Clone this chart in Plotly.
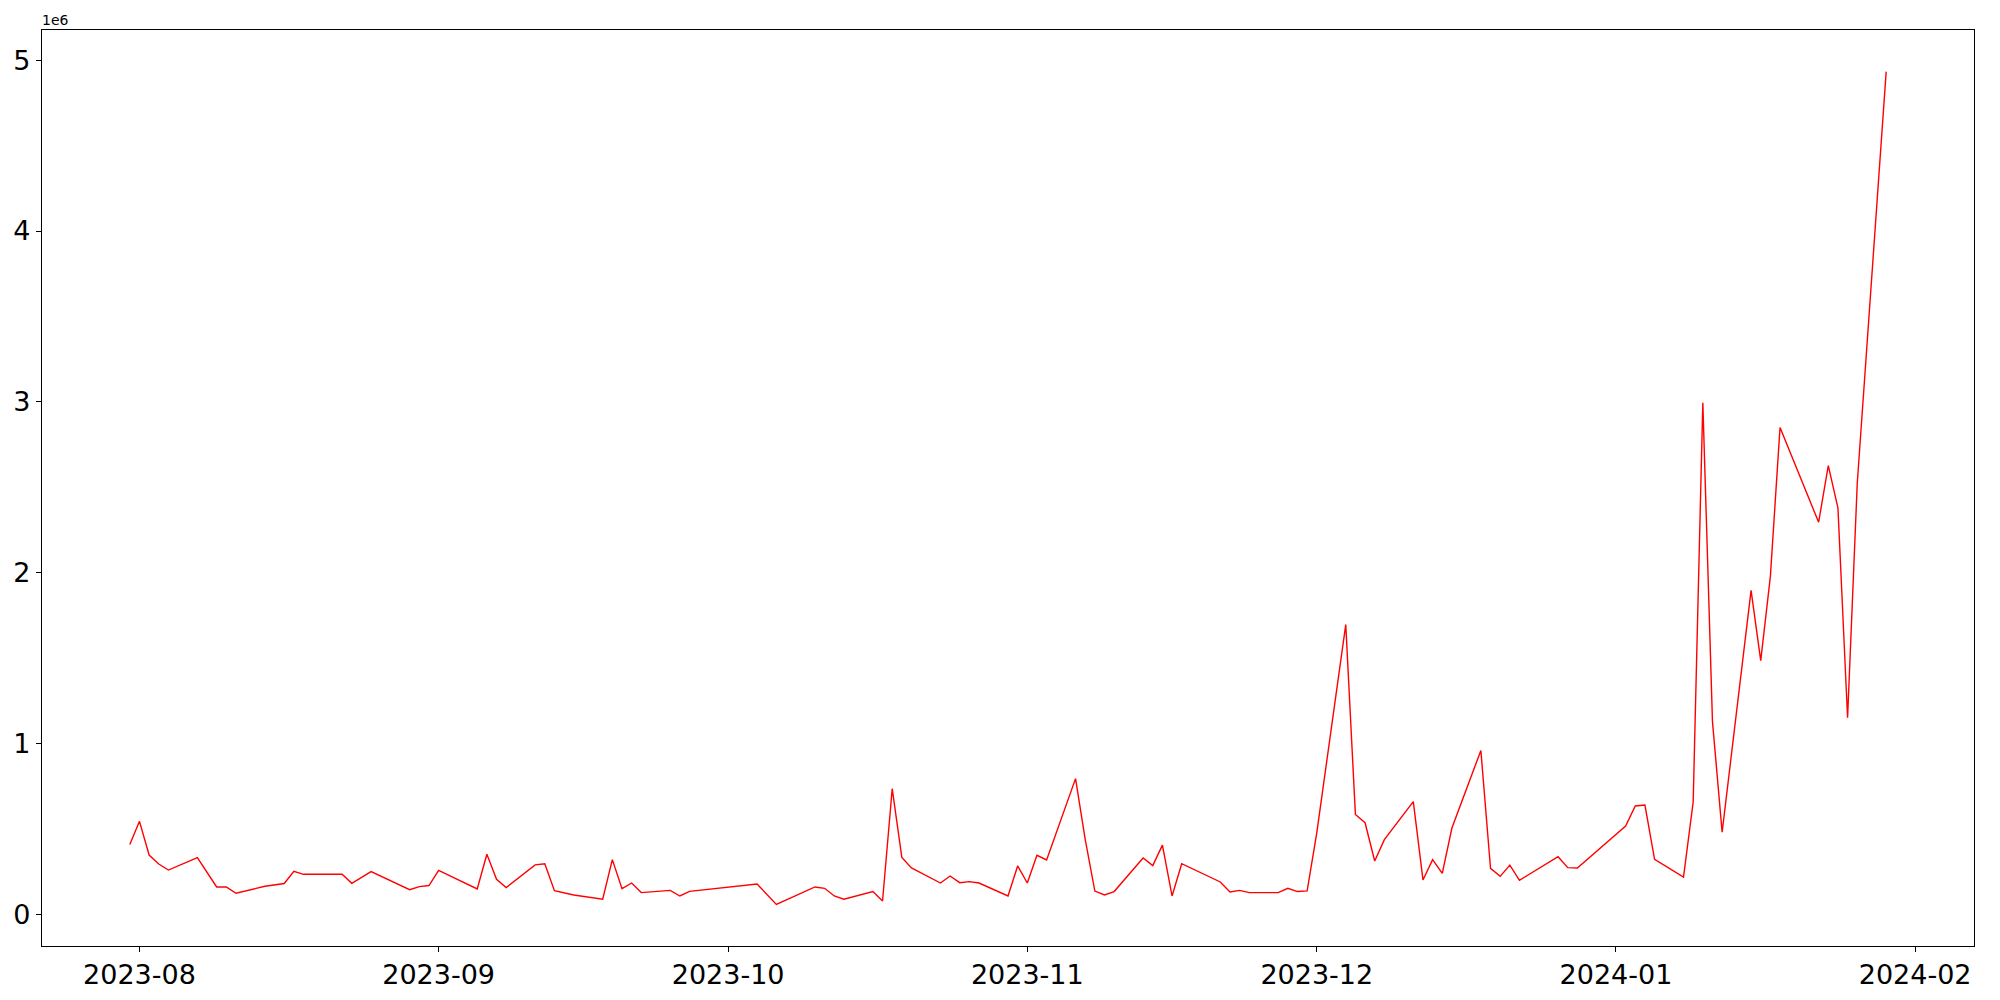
import plotly.graph_objects as go
import pandas as pd

# values (business days, units of 1)
dates = [
    '2023-07-31', '2023-08-01', '2023-08-02', '2023-08-03', '2023-08-04', '2023-08-07',
    '2023-08-09', '2023-08-10', '2023-08-11', '2023-08-14', '2023-08-16', '2023-08-17',
    '2023-08-18', '2023-08-22', '2023-08-23', '2023-08-25', '2023-08-29', '2023-08-30',
    '2023-08-31', '2023-09-01', '2023-09-05', '2023-09-06', '2023-09-07', '2023-09-08',
    '2023-09-11', '2023-09-12', '2023-09-13', '2023-09-15', '2023-09-18', '2023-09-19',
    '2023-09-20', '2023-09-21', '2023-09-22', '2023-09-25', '2023-09-26', '2023-09-27',
    '2023-10-04', '2023-10-06', '2023-10-10', '2023-10-11', '2023-10-12', '2023-10-13',
    '2023-10-16', '2023-10-17', '2023-10-18', '2023-10-19', '2023-10-20', '2023-10-23',
    '2023-10-24', '2023-10-25', '2023-10-26', '2023-10-27', '2023-10-30', '2023-10-31',
    '2023-11-01', '2023-11-02', '2023-11-03', '2023-11-06', '2023-11-07', '2023-11-08',
    '2023-11-09', '2023-11-10', '2023-11-13', '2023-11-14', '2023-11-15', '2023-11-16',
    '2023-11-17', '2023-11-20', '2023-11-21', '2023-11-22', '2023-11-23', '2023-11-24',
    '2023-11-27', '2023-11-28', '2023-11-29', '2023-11-30', '2023-12-01', '2023-12-04',
    '2023-12-05', '2023-12-06', '2023-12-07', '2023-12-08', '2023-12-11', '2023-12-12',
    '2023-12-13', '2023-12-14', '2023-12-15', '2023-12-18', '2023-12-19', '2023-12-20',
    '2023-12-21', '2023-12-22', '2023-12-26', '2023-12-27', '2023-12-28', '2024-01-02',
    '2024-01-03', '2024-01-04', '2024-01-05', '2024-01-08', '2024-01-09', '2024-01-10',
    '2024-01-11', '2024-01-12', '2024-01-15', '2024-01-16', '2024-01-17', '2024-01-18',
    '2024-01-22', '2024-01-23', '2024-01-24', '2024-01-25', '2024-01-26', '2024-01-29',
]
values = [
    409000, 544000, 347000, 294000, 259000, 331000,
    160000, 160000, 123000, 164000, 180000, 251000,
    234000, 234000, 181000, 250000, 144000, 162000,
    168000, 257000, 148000, 351000, 205000, 156000,
    289000, 296000, 138000, 113000, 88000, 320000,
    150000, 183000, 127000, 140000, 107000, 134000,
    177000, 58000, 160000, 152000, 107000, 88000,
    133000, 78000, 735000, 333000, 271000, 183000,
    224000, 185000, 191000, 183000, 107000, 283000,
    183000, 345000, 318000, 794000, 439000, 136000,
    113000, 133000, 329000, 285000, 405000, 107000,
    296000, 215000, 189000, 130000, 140000, 127000,
    127000, 152000, 133000, 137000, 478000, 1696000,
    584000, 536000, 312000, 437000, 659000, 201000,
    320000, 240000, 505000, 959000, 269000, 222000,
    288000, 199000, 337000, 273000, 271000, 516000,
    634000, 639000, 322000, 217000, 657000, 2995000,
    1128000, 480000, 1896000, 1485000, 1978000, 2850000,
    2295000, 2626000, 2380000, 1150000, 2520000, 4933000,
]

x_ticks = ['2023-08-01', '2023-09-01', '2023-10-01', '2023-11-01',
           '2023-12-01', '2024-01-01', '2024-02-01']
x_tick_labels = ['2023-08', '2023-09', '2023-10', '2023-11', '2023-12', '2024-01', '2024-02']
y_ticks = [0, 1000000, 2000000, 3000000, 4000000, 5000000]
y_tick_labels = ['0', '1', '2', '3', '4', '5']

dts = pd.to_datetime(dates)
pad = (dts.max() - dts.min()) * 0.05
x_range = [dts.min() - pad, dts.max() + pad]
ypad = (max(values) - min(values)) * 0.05
y_range = [min(values) - ypad, max(values) + ypad]

FONT = 'DejaVu Sans'

# the page body adds 8px on the left and top, margins allow for it
fig = go.Figure(layout=go.Layout(
    width=2000, height=1000, autosize=False,
    paper_bgcolor='white', plot_bgcolor='white',
    margin={'l': 34, 'r': 34, 't': 22, 'b': 62},
    showlegend=False,
    font={'family': FONT, 'color': 'black'},
))
fig.add_trace(go.Scatter(x=dts, y=values, mode='lines',
                         line={'color': 'red', 'width': 1.4}))

axis_style = dict(showline=True, mirror=True, linecolor='black', linewidth=1.1,
                  showgrid=False, zeroline=False, ticks='outside', ticklen=5,
                  tickwidth=1.1, tickcolor='black', automargin=False,
                  tickfont={'size': 27, 'family': FONT})
fig.update_xaxes(range=x_range, tickmode='array', tickvals=x_ticks,
                 ticktext=x_tick_labels, **axis_style)
fig.update_yaxes(range=y_range, tickmode='array', tickvals=y_ticks,
                 ticktext=y_tick_labels, **axis_style)

fig.add_annotation(text='1e6', xref='paper', yref='paper', x=0, y=1,
                   xanchor='left', yanchor='bottom', showarrow=False,
                   font={'size': 14, 'family': FONT}, xshift=-2, yshift=0)

fig.write_html("out.html")
